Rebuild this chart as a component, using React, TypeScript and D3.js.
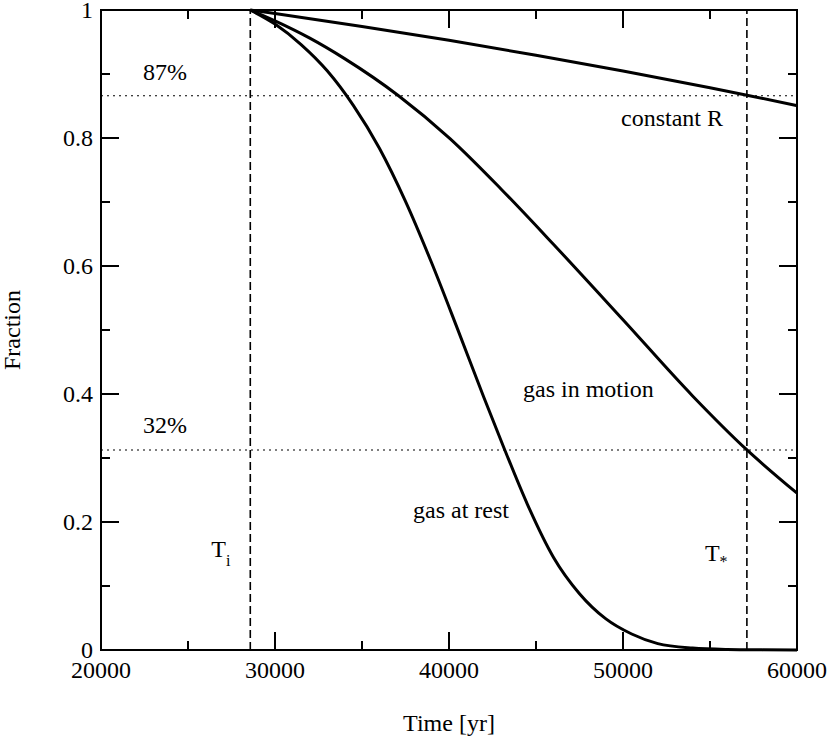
import React from 'react';
import * as d3 from 'd3';

// axis ticks
const xMajor = [20000, 30000, 40000, 50000, 60000];
const xMinor = [25000, 35000, 45000, 55000];
const yMajor = [0, 0.2, 0.4, 0.6, 0.8, 1];
const yMinor = [0.1, 0.3, 0.5, 0.7, 0.9];
const yLabels = ['0', '0.2', '0.4', '0.6', '0.8', '1'];

// reference markers
const tInitial = 28580;
const tStar = 57120;
const level87 = 0.866;
const level32 = 0.3125;

// curves
const constRYears = [28580, 30000, 35000, 40000, 45000, 50000, 55000, 57126, 60000];
const constRFrac = [1, 0.9945, 0.9743, 0.9526, 0.9294, 0.9047, 0.8784, 0.8668, 0.8507];

const motionYears = [28580, 30000, 32000, 34000, 37100, 40057, 43000, 46000, 50000, 54000, 57108, 60000];
const motionFrac = [1, 0.983, 0.956, 0.924, 0.866, 0.799, 0.72, 0.634, 0.516, 0.397, 0.313, 0.245];

const restYears = [28580, 30000, 31500, 33000, 34500, 36000, 37500, 39000, 40500, 42000, 43200, 44500, 46000, 47500, 49000, 50500, 52000, 54000, 56000, 58000, 60000];
const restFrac = [1, 0.978, 0.946, 0.905, 0.851, 0.784, 0.701, 0.605, 0.501, 0.395, 0.313, 0.228, 0.145, 0.088, 0.049, 0.025, 0.01, 0.003, 0.0008, 0.0002, 0];

const W = 830;
const H = 737;
const m = { left: 101, top: 10, right: 33, bottom: 87 };
const FONT = "Liberation Serif, Tinos, Times New Roman, Times, Nimbus Roman, FreeSerif, DejaVu Serif, Noto Serif, serif";

export default function App() {
  const x = d3.scaleLinear().domain([20000, 60000]).range([m.left, W - m.right]);
  const y = d3.scaleLinear().domain([0, 1]).range([H - m.bottom, m.top]);
  const [x0, x1] = x.range();
  const [y0, y1] = y.range();

  const line = d3.line<[number, number]>()
    .x(d => x(d[0]))
    .y(d => y(d[1]))
    .curve(d3.curveMonotoneX);

  const series = [
    constRYears.map((t, i) => [t, constRFrac[i]] as [number, number]),
    motionYears.map((t, i) => [t, motionFrac[i]] as [number, number]),
    restYears.map((t, i) => [t, restFrac[i]] as [number, number]),
  ];

  const major = 18;
  const minor = 9;

  return (
    <svg width={W} height={H} style={{ position: 'absolute', left: 0, top: 0, background: '#fff' }}>
      {/* reference lines */}
      {[level87, level32].map(v => (
        <line key={v} x1={x0} x2={x1} y1={y(v)} y2={y(v)} stroke="#000" strokeWidth={1.2} strokeDasharray="2,4" />
      ))}
      {[tInitial, tStar].map(t => (
        <line key={t} x1={x(t)} x2={x(t)} y1={y0} y2={y1} stroke="#000" strokeWidth={1.6} strokeDasharray="8,4" />
      ))}

      {/* curves */}
      {series.map((s, i) => (
        <path key={i} d={line(s) || ''} fill="none" stroke="#000" strokeWidth={3} strokeLinejoin="round" />
      ))}

      {/* ticks, mirrored on all sides, pointing inward */}
      <g stroke="#000" strokeWidth={2}>
        {xMajor.map(t => (
          <g key={t}>
            <line x1={x(t)} x2={x(t)} y1={y0} y2={y0 - major} />
            <line x1={x(t)} x2={x(t)} y1={y1} y2={y1 + major} />
          </g>
        ))}
        {xMinor.map(t => (
          <g key={t}>
            <line x1={x(t)} x2={x(t)} y1={y0} y2={y0 - minor} />
            <line x1={x(t)} x2={x(t)} y1={y1} y2={y1 + minor} />
          </g>
        ))}
        {yMajor.map(v => (
          <g key={v}>
            <line x1={x0} x2={x0 + major} y1={y(v)} y2={y(v)} />
            <line x1={x1} x2={x1 - major} y1={y(v)} y2={y(v)} />
          </g>
        ))}
        {yMinor.map(v => (
          <g key={v}>
            <line x1={x0} x2={x0 + minor} y1={y(v)} y2={y(v)} />
            <line x1={x1} x2={x1 - minor} y1={y(v)} y2={y(v)} />
          </g>
        ))}
      </g>

      {/* frame */}
      <rect x={x0} y={y1} width={x1 - x0} height={y0 - y1} fill="none" stroke="#000" strokeWidth={2} />

      {/* tick labels */}
      <g fontSize={24} fill="#000" fontFamily={FONT}>
        {xMajor.map(t => (
          <text key={t} x={x(t)} y={y0 + 28} textAnchor="middle">{t}</text>
        ))}
        {yMajor.map((v, i) => (
          <text key={v} x={x0 - 8} y={y(v)} dy="0.33em" textAnchor="end">{yLabels[i]}</text>
        ))}
      </g>

      {/* axis titles */}
      <g fontSize={24} fill="#000" fontFamily={FONT}>
        <text x={(x0 + x1) / 2} y={731} textAnchor="middle">Time [yr]</text>
        <text transform={`translate(20,${(y0 + y1) / 2}) rotate(-90)`} textAnchor="middle">Fraction</text>
      </g>

      {/* annotations */}
      <g fontSize={24} fill="#000" fontFamily={FONT}>
        <text x={143} y={y(level87) - 16}>87%</text>
        <text x={143} y={y(level32) - 17}>32%</text>
        <text x={621} y={126}>constant R</text>
        <text x={523} y={397}>gas in motion</text>
        <text x={413} y={518}>gas at rest</text>
        <text x={x(tInitial) - 39} y={557}>T<tspan fontSize={16} dy={9}>i</tspan></text>
        <text x={x(tStar) - 42} y={561}>T<tspan fontSize={16} dy={6}>*</tspan></text>
      </g>
    </svg>
  );
}
